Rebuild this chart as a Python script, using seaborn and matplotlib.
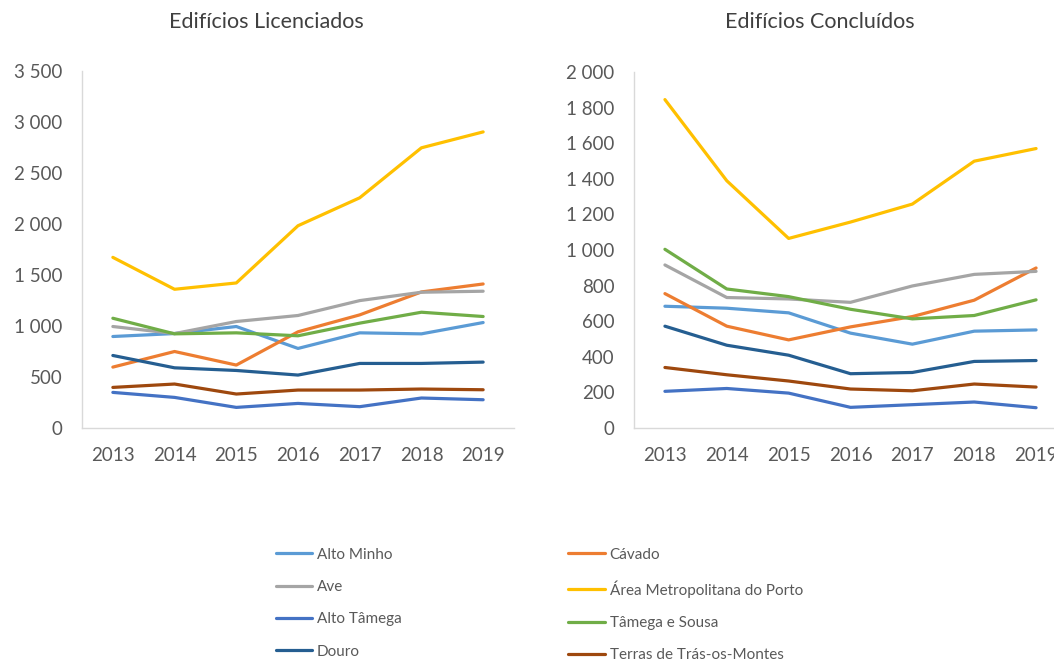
import matplotlib
matplotlib.use("Agg")
import matplotlib.pyplot as plt
import matplotlib.ticker as mticker
from matplotlib.lines import Line2D
import seaborn as sns
import pandas as pd

years = [2013, 2014, 2015, 2016, 2017, 2018, 2019]
regions = ["Alto Minho", "Cávado", "Ave", "Área Metropolitana do Porto",
           "Alto Tâmega", "Tâmega e Sousa", "Douro", "Terras de Trás-os-Montes"]

lic_alto_minho = [897, 926, 995, 780, 933, 923, 1034]
lic_cavado = [597, 750, 617, 943, 1109, 1334, 1412]
lic_ave = [995, 926, 1044, 1103, 1249, 1331, 1341]
lic_amp = [1673, 1360, 1422, 1983, 2257, 2747, 2903]
lic_alto_tamega = [349, 300, 202, 241, 209, 294, 277]
lic_tamega_sousa = [1076, 923, 933, 904, 1028, 1135, 1093]
lic_douro = [711, 590, 564, 519, 633, 633, 646]
lic_terras = [398, 431, 333, 372, 372, 382, 375]

con_alto_minho = [684, 673, 647, 533, 471, 544, 551]
con_cavado = [755, 572, 495, 568, 626, 718, 899]
con_ave = [916, 733, 725, 706, 798, 863, 880]
con_amp = [1845, 1389, 1065, 1157, 1258, 1499, 1570]
con_alto_tamega = [206, 222, 196, 116, 131, 146, 114]
con_tamega_sousa = [1004, 781, 738, 667, 613, 632, 720]
con_douro = [572, 465, 409, 305, 312, 374, 379]
con_terras = [340, 299, 264, 219, 209, 247, 230]

colors = ["#5B9BD5", "#ED7D31", "#A5A5A5", "#FFC000",
          "#4472C4", "#70AD47", "#255E91", "#9E480E"]

lic = [lic_alto_minho, lic_cavado, lic_ave, lic_amp,
       lic_alto_tamega, lic_tamega_sousa, lic_douro, lic_terras]
con = [con_alto_minho, con_cavado, con_ave, con_amp,
       con_alto_tamega, con_tamega_sousa, con_douro, con_terras]


def long_df(series):
    rows = []
    for r, vals in zip(regions, series):
        for y, v in zip(years, vals):
            rows.append({"Ano": y, "Região": r, "Valor": v})
    return pd.DataFrame(rows)


sns.set_theme(style="white")
plt.rcParams["font.family"] = ["Lato", "DejaVu Sans"]

palette = dict(zip(regions, colors))
fig = plt.figure(figsize=(10.54, 6.62), dpi=100)
ax1 = fig.add_axes([82 / 1054, 1 - 428 / 662, 432 / 1054, 357 / 662])
ax2 = fig.add_axes([634 / 1054, 1 - 428 / 662, 433 / 1054, 356 / 662])

text_col = "#595959"
spine_col = "#D9D9D9"


def fmt(v, pos):
    return f"{int(v):,}".replace(",", " ")


for ax, series, ymax, step, title, tx in [
    (ax1, lic, 3500, 500, "Edifícios Licenciados", 266),
    (ax2, con, 2000, 200, "Edifícios Concluídos", 820),
]:
    df = long_df(series)
    sns.lineplot(data=df, x="Ano", y="Valor", hue="Região", hue_order=regions,
                 palette=palette, linewidth=2.3, legend=False, ax=ax)
    ax.set_xlim(2012.5, 2019.5)
    ax.set_ylim(0, ymax)
    ax.set_xticks(years)
    ax.set_yticks(range(0, ymax + 1, step))
    ax.yaxis.set_major_formatter(mticker.FuncFormatter(fmt))
    ax.set_xlabel("")
    ax.set_ylabel("")
    for s in ["top", "right"]:
        ax.spines[s].set_visible(False)
    for s in ["left", "bottom"]:
        ax.spines[s].set_color(spine_col)
        ax.spines[s].set_linewidth(1.0)
    ax.tick_params(axis="y", length=0, pad=14, labelsize=13.5, labelcolor=text_col)
    ax.tick_params(axis="x", length=0, pad=14, labelsize=13.5, labelcolor=text_col)
    fig.text(tx / 1054, 1 - 22 / 662, title, ha="center", va="center",
             fontsize=15.5, color="#404040")

handles = [Line2D([], [], color=c, lw=2.3) for c in colors]
order = [0, 2, 4, 6, 1, 3, 5, 7]
leg = fig.legend([handles[i] for i in order], [regions[i] for i in order],
                 ncol=2, loc="upper left", bbox_to_anchor=(262 / 1054, 1 - 534 / 662),
                 frameon=False, fontsize=11, handlelength=2.4, handletextpad=0.3,
                 labelspacing=1.2, columnspacing=10.9, labelcolor=text_col)

fig.savefig("out.png", dpi=100)
